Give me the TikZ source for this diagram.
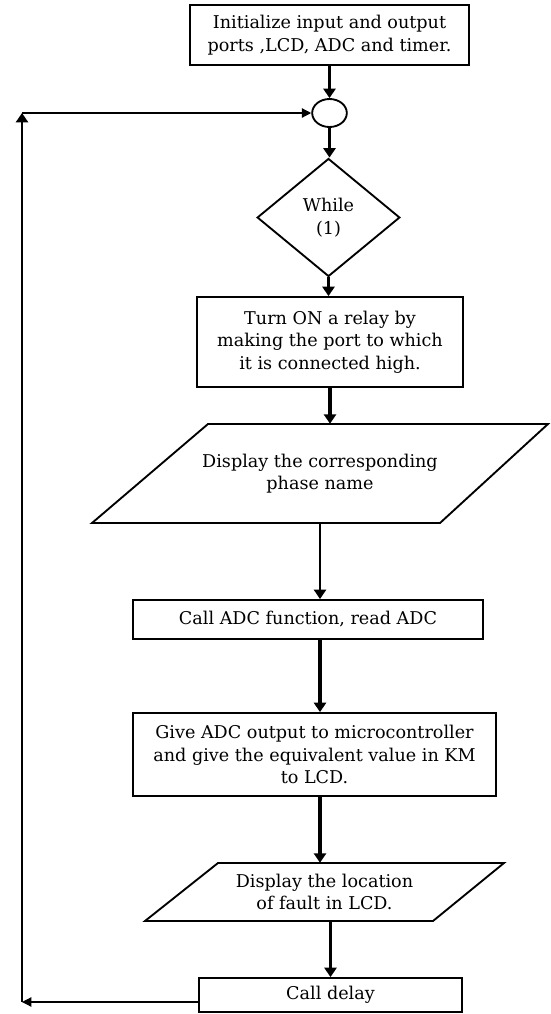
\documentclass[tikz,border=0pt]{standalone}
\usepackage{fontspec}
\setmainfont{DejaVu Serif}
\usetikzlibrary{arrows.meta,shapes.geometric}
\begin{document}
\begin{tikzpicture}[x=0.75pt,y=-0.75pt,
  every node/.style={font=\fontsize{13.2}{16.8}\selectfont, align=center, inner sep=0pt},
  procbox/.style={draw, line width=1.4pt},
  outline/.style={line width=1.4pt, line join=miter},
  flow/.style={line width=2.4pt, -{Triangle[length=7pt,width=9pt]}},
  thinflow/.style={line width=1.5pt, -{Triangle[length=7pt,width=9pt]}},
  loopline/.style={line width=0.9pt, -{Triangle[length=7pt,width=7pt]}},
  loopup/.style={line width=2pt, -{Triangle[length=7pt,width=9pt]}}
]
\useasboundingbox (0,0) rectangle (550,1014);

% nodes
\node[procbox, minimum width=209.25pt, minimum height=45pt] (init) at (329.5,35)
  {Initialize input and output\\ports ,LCD, ADC and timer.};
\node[draw, ellipse, line width=1.4pt, minimum width=26pt, minimum height=21pt] (conn) at (329.5,113) {};
\node[draw, diamond, line width=1.4pt, minimum width=107pt, minimum height=88.5pt] (while) at (328.5,217.5)
  {While\\(1)};
\node[procbox, minimum width=199.5pt, minimum height=67.5pt] (relay) at (330,342)
  {Turn ON a relay by\\making the port to which\\it is connected high.};
\node[minimum width=342pt, minimum height=74.25pt] (disp1) at (320,473.5)
  {Display the corresponding\\phase name};
\draw[outline] (92,523) -- (208,424) -- (548,424) -- (440,523) -- cycle;
\node[procbox, minimum width=262.5pt, minimum height=29.25pt] (adc) at (308,619.5)
  {Call ADC function, read ADC};
\node[procbox, minimum width=272.25pt, minimum height=62.25pt] (give) at (314.5,754.5)
  {Give ADC output to microcontroller\\and give the equivalent value in KM\\to LCD.};
\node[minimum width=269.25pt, minimum height=43.5pt] (disp2) at (324.5,892)
  {Display the location\\of fault in LCD.};
\draw[outline] (145,921) -- (218,863) -- (504,863) -- (433,921) -- cycle;
\node[procbox, minimum width=197.25pt, minimum height=25.5pt] (delay) at (330.5,995)
  {Call delay};

\coordinate (bl) at (22,1002);
\coordinate (tl) at (22,113);

% connectors
\draw[flow] (init.south) -- (conn.north);
\draw[flow] (conn.south) -- (conn.south |- while.north);
\draw[flow] (while.south) -- (while.south |- relay.north);
\draw[flow] (relay.south) -- (relay.south |- disp1.north);
\draw[thinflow] (disp1.south) -- (disp1.south |- adc.north);
\draw[flow] (disp1.south |- adc.south) -- (disp1.south |- give.north);
\draw[flow] (disp1.south |- give.south) -- (disp1.south |- disp2.north);
\draw[flow] (delay.north |- disp2.south) -- (delay.north);

% loop back
\draw[loopline] (delay.west |- bl) -- (bl);
\draw[loopup] (bl) -- (tl);
\draw[loopline] (tl) -- (conn.west);
\end{tikzpicture}
\end{document}
